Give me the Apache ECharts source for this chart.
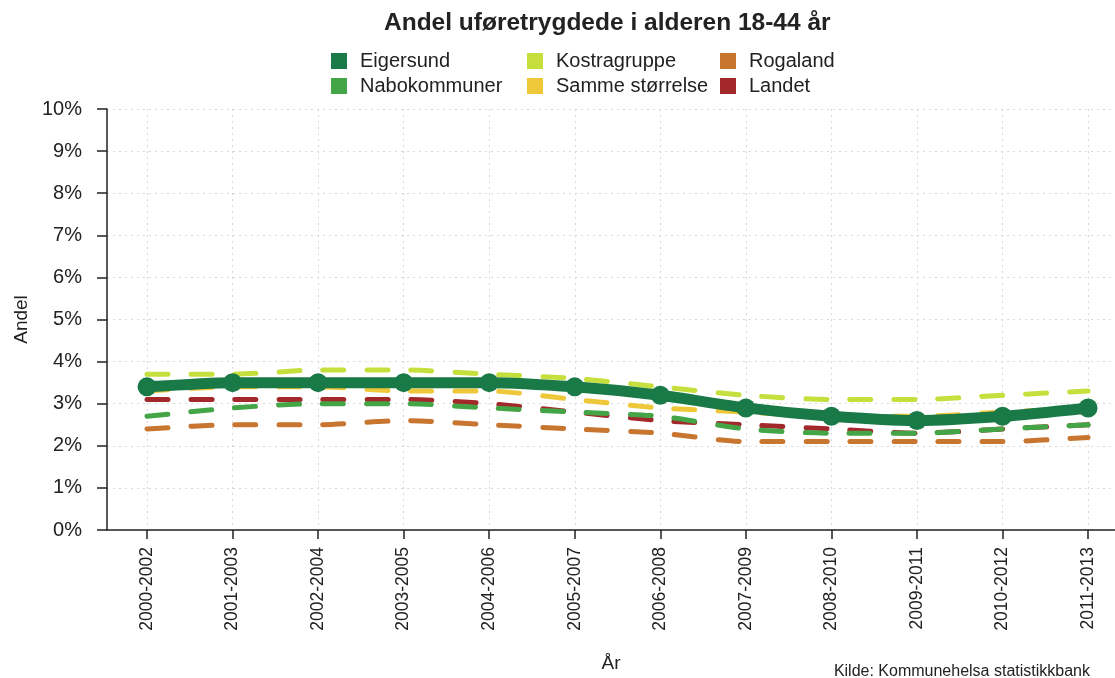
<!DOCTYPE html>
<html>
<head>
<meta charset="utf-8">
<script src="https://cdn.jsdelivr.net/npm/echarts@6/dist/echarts.min.js"></script>
<style>html,body{margin:0;padding:0;background:#fff}#c{width:1115px;height:678px}</style>
</head>
<body>
<div id="c"></div>
<script>
var categories = ['2000-2002','2001-2003','2002-2004','2003-2005','2004-2006','2005-2007','2006-2008','2007-2009','2008-2010','2009-2011','2010-2012','2011-2013'];
var eigersund      = [3.4, 3.5, 3.5, 3.5, 3.5, 3.4, 3.2, 2.9, 2.7, 2.6, 2.7, 2.9];
var nabokommuner   = [2.7, 2.9, 3.0, 3.0, 2.9, 2.8, 2.7, 2.4, 2.3, 2.3, 2.4, 2.5];
var kostragruppe   = [3.7, 3.7, 3.8, 3.8, 3.7, 3.6, 3.4, 3.2, 3.1, 3.1, 3.2, 3.3];
var sammeStorrelse = [3.3, 3.4, 3.4, 3.3, 3.3, 3.1, 2.9, 2.8, 2.7, 2.7, 2.8, 2.9];
var rogaland       = [2.4, 2.5, 2.5, 2.6, 2.5, 2.4, 2.3, 2.1, 2.1, 2.1, 2.1, 2.2];
var landet         = [3.1, 3.1, 3.1, 3.1, 3.0, 2.8, 2.6, 2.5, 2.4, 2.3, 2.4, 2.5];

var FONT = '"Liberation Sans", Arial, sans-serif';
var colors = {
  'Eigersund': '#1a7a47',
  'Nabokommuner': '#43a545',
  'Kostragruppe': '#c6df3c',
  'Samme størrelse': '#efc83a',
  'Rogaland': '#c8752f',
  'Landet': '#a3282b'
};
function pairs(arr){ return arr.map(function(v,i){ return [i, v]; }); }
function dashed(name, arr, z){
  return {
    name: name, type: 'line', data: pairs(arr), z: z,
    symbol: 'none', smooth: 0.25, silent: true,
    lineStyle: { color: colors[name], width: 5, type: [21, 23], cap: 'round' },
    itemStyle: { color: colors[name] }
  };
}
var idx = categories.map(function(c,i){ return i; });
var chart = echarts.init(document.getElementById('c'), null, {renderer:'canvas'});
var legendCommon = {
  orient: 'vertical', icon: 'rect', itemWidth: 16, itemHeight: 16, itemGap: 5,
  selectedMode: false, padding: 0,
  textStyle: { fontFamily: FONT, fontSize: 20, color: '#222', padding: [0,0,0,8] }
};
chart.setOption({
  animation: false,
  backgroundColor: '#fff',
  title: {
    text: 'Andel uføretrygdede i alderen 18-44 år',
    left: 384, top: 11, padding: 0,
    textStyle: { fontFamily: FONT, fontSize: 24.5, fontWeight: 'bold', color: '#222' }
  },
  legend: [
    Object.assign({ left: 331, top: 51, data: ['Eigersund','Nabokommuner'] }, legendCommon),
    Object.assign({ left: 527, top: 51, data: ['Kostragruppe','Samme størrelse'] }, legendCommon),
    Object.assign({ left: 720, top: 51, data: ['Rogaland','Landet'] }, legendCommon)
  ],
  grid: { left: 107, right: 0, top: 109, bottom: 148 },
  xAxis: {
    type: 'value',
    min: -0.4676, max: 11.315,
    name: 'År', nameLocation: 'middle', nameGap: 124,
    nameTextStyle: { fontFamily: FONT, fontSize: 19, color: '#222' },
    axisLine: { show: true, onZero: false, lineStyle: { color: '#222', width: 1.5 } },
    axisTick: { show: true, customValues: idx, length: 9, lineStyle: { color: '#222', width: 1.5 } },
    axisLabel: {
      customValues: idx, rotate: 90, margin: 17,
      fontFamily: FONT, fontSize: 17.5, color: '#222',
      formatter: function(v){ return categories[Math.round(v)] || ''; }
    },
    splitLine: { show: true, lineStyle: { color: '#d8d8d8', type: [2, 4], width: 1 } }
  },
  yAxis: {
    type: 'value', min: 0, max: 10, interval: 1,
    name: 'Andel', nameLocation: 'middle', nameGap: 69, nameRotate: 90,
    nameTextStyle: { fontFamily: FONT, fontSize: 19, color: '#222' },
    axisLine: { show: true, onZero: false, lineStyle: { color: '#222', width: 1.5 } },
    axisTick: { show: true, length: 10, lineStyle: { color: '#222', width: 1.5 } },
    axisLabel: {
      margin: 25, fontFamily: FONT, fontSize: 20, color: '#222',
      formatter: function(v){ return v + '%'; }
    },
    splitLine: { show: true, lineStyle: { color: '#d8d8d8', type: [2, 4], width: 1 } }
  },
  graphic: [{
    type: 'text', right: 25, bottom: -2,
    style: { text: 'Kilde: Kommunehelsa statistikkbank', font: '16px ' + FONT, fill: '#222' }
  }],
  series: [
    dashed('Rogaland', rogaland, 2),
    dashed('Landet', landet, 2),
    dashed('Nabokommuner', nabokommuner, 3),
    dashed('Samme størrelse', sammeStorrelse, 3),
    dashed('Kostragruppe', kostragruppe, 3),
    {
      name: 'Eigersund', type: 'line', data: pairs(eigersund), z: 10,
      symbol: 'circle', symbolSize: 19, smooth: 0.25, silent: true,
      lineStyle: { color: colors['Eigersund'], width: 11 },
      itemStyle: { color: colors['Eigersund'] }
    }
  ]
});
</script>
</body>
</html>
